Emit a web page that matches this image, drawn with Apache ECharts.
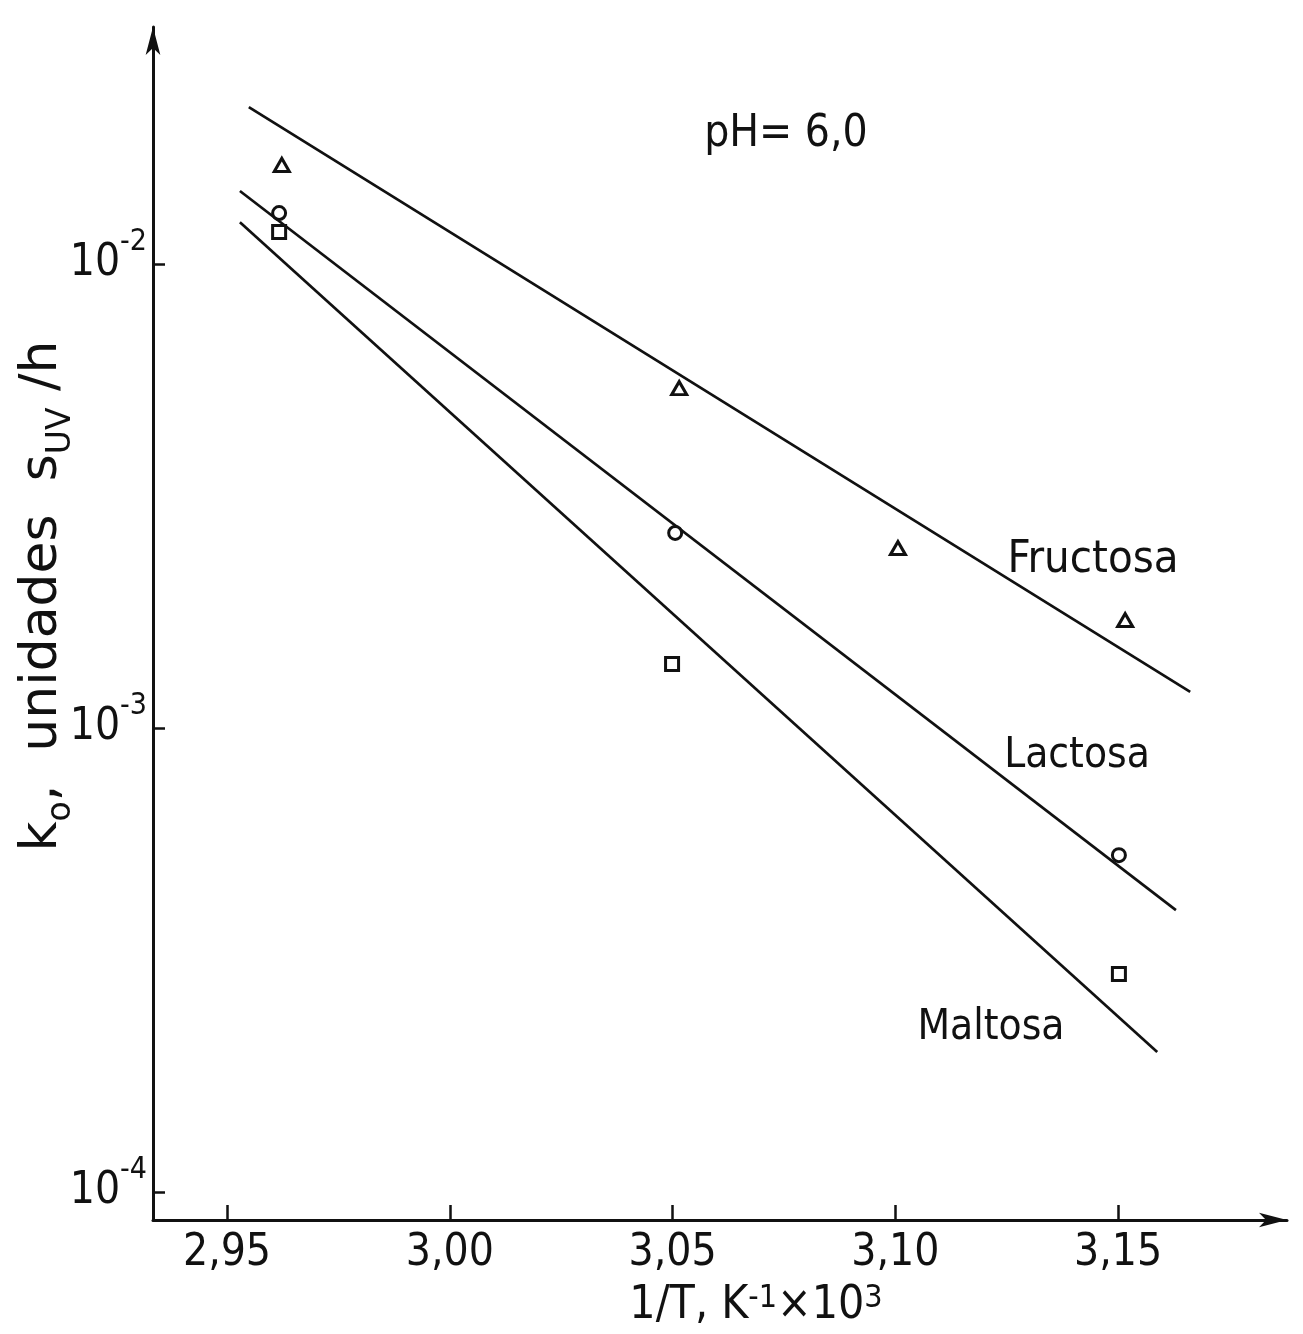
<!DOCTYPE html>
<html>
<head>
<meta charset="utf-8">
<script src="https://cdn.jsdelivr.net/npm/echarts@6/dist/echarts.min.js"></script>
<style>
  html, body { margin: 0; padding: 0; background: #fff; }
  #chart { width: 1303px; height: 1334px; }
</style>
</head>
<body>
<div id="chart"></div>
<script>
const FONT = '"DejaVu Sans Condensed", "Liberation Sans Narrow", sans-serif';
const WIDE = '"DejaVu Sans", sans-serif';

// x: 1/T (K^-1 x 10^3), y: k_o (unidades s_UV / h)
const xTicks = [2.95, 3.0, 3.05, 3.1, 3.15];
const yTicks = [1e-4, 1e-3, 1e-2];

const fructosaPts = [[2.9623, 0.01635], [3.0515, 0.00540], [3.1006, 0.002443], [3.1516, 0.001709]];
const lactosaPts = [[2.9617, 0.01288], [3.0506, 0.002633], [3.1502, 0.000532]];
const maltosaPts = [[2.9617, 0.01172], [3.0499, 0.001374], [3.1502, 0.000295]];

// fitted straight lines (end points)
const fructosaFit = [[2.9549, 0.02180], [3.1662, 0.001196]];
const lactosaFit = [[2.9529, 0.01437], [3.1630, 0.000405]];
const maltosaFit = [[2.9529, 0.01231], [3.1588, 0.0002003]];

const chart = echarts.init(document.getElementById("chart"));

const markerStyle = { color: "#fff", borderColor: "#111", borderWidth: 3, opacity: 1 };
const fitLine = (name, data) => ({
    type: "line",
    name,
    data,
    symbol: "none",
    silent: true,
    lineStyle: { color: "#111", width: 2.7 }
});
const points = (name, data, symbol, size) => ({
    type: "scatter",
    name,
    data,
    symbol,
    symbolSize: size,
    itemStyle: markerStyle,
    z: 5
});

const sup = { fontFamily: FONT, fontSize: 30, color: "#111", verticalAlign: "top", lineHeight: 28 };
const base = { fontFamily: FONT, fontSize: 44, color: "#111", lineHeight: 74 };

chart.setOption({
    animation: false,
    backgroundColor: "#fff",
    grid: { left: 153, right: 16, top: 27, bottom: 114 },
    xAxis: {
        type: "value",
        min: 2.93339,
        max: 3.18793,
        axisLine: {
            lineStyle: { color: "#111", width: 3 },
            symbol: ["none", "arrow"],
            symbolSize: [11, 28]
        },
        axisTick: { show: true, inside: true, length: 15, customValues: xTicks, lineStyle: { color: "#111", width: 2.5 } },
        axisLabel: {
            customValues: xTicks,
            margin: 12,
            fontFamily: FONT,
            fontSize: 44,
            color: "#111",
            formatter: (v) => v.toFixed(2).replace(".", ",")
        },
        splitLine: { show: false }
    },
    yAxis: {
        type: "log",
        logBase: 10,
        min: 8.70e-5,
        max: 0.03243,
        axisLine: {
            show: true,
            lineStyle: { color: "#111", width: 3 },
            symbol: ["none", "arrow"],
            symbolSize: [11, 28]
        },
        axisTick: { show: true, inside: true, length: 12, customValues: yTicks, lineStyle: { color: "#111", width: 2.5 } },
        axisLabel: {
            customValues: yTicks,
            margin: 6,
            formatter: (v) => "{b|10}{s|-" + Math.round(-Math.log10(v)) + "}",
            rich: { b: base, s: sup }
        },
        splitLine: { show: false }
    },
    graphic: [
        {
            type: "text",
            x: 42, y: 596,
            rotation: Math.PI / 2,
            style: {
                text: "k{sb|o},  unidades  s{sb|UV} /h",
                align: "center",
                verticalAlign: "middle",
                fontFamily: WIDE,
                fontSize: 52,
                fill: "#111",
                rich: { sb: { fontFamily: WIDE, fontSize: 33, fill: "#111", verticalAlign: "bottom", lineHeight: 72 } }
            }
        },
        {
            type: "text",
            x: 756, y: 1306,
            style: {
                text: "1/T, K{sp|-1}×10{sp|3}",
                align: "center",
                verticalAlign: "middle",
                fontFamily: FONT,
                fontSize: 46,
                fill: "#111",
                rich: { sp: { fontFamily: FONT, fontSize: 32, fill: "#111", verticalAlign: "top", lineHeight: 30 } }
            }
        },
        { type: "text", x: 786, y: 135, style: { text: "pH= 6,0", align: "center", verticalAlign: "middle", fontFamily: FONT, fontSize: 44, fill: "#111" } },
        { type: "text", x: 1093, y: 560, style: { text: "Fructosa", align: "center", verticalAlign: "middle", fontFamily: FONT, fontSize: 45, fill: "#111" } },
        { type: "text", x: 1077, y: 756, style: { text: "Lactosa", align: "center", verticalAlign: "middle", fontFamily: FONT, fontSize: 42, fill: "#111" } },
        { type: "text", x: 991, y: 1028, style: { text: "Maltosa", align: "center", verticalAlign: "middle", fontFamily: FONT, fontSize: 42, fill: "#111" } }
    ],
    series: [
        fitLine("Fructosa", fructosaFit),
        fitLine("Lactosa", lactosaFit),
        fitLine("Maltosa", maltosaFit),
        points("Fructosa", fructosaPts, "triangle", [15, 13]),
        points("Lactosa", lactosaPts, "circle", 13),
        points("Maltosa", maltosaPts, "rect", 13)
    ]
});
</script>
</body>
</html>
